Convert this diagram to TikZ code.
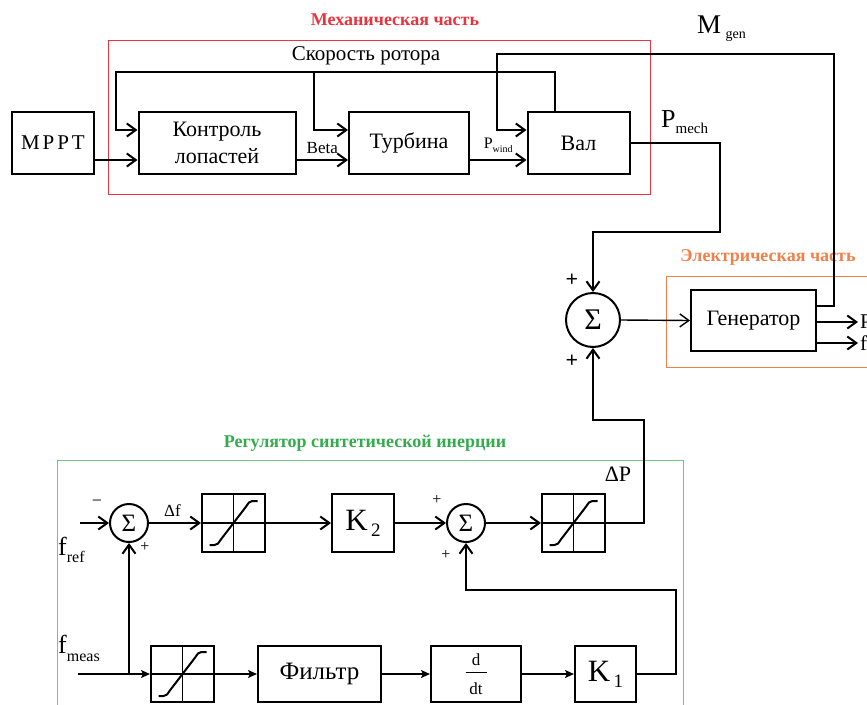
\documentclass[tikz,border=0pt]{standalone}
\usepackage{fontspec}
\setmainfont{Liberation Serif}
\usetikzlibrary{arrows.meta}

\definecolor{mechred}{RGB}{232,52,62}
\definecolor{elorange}{RGB}{240,128,72}
\definecolor{regreen}{RGB}{52,172,78}
\definecolor{regreenline}{RGB}{110,200,130}

% font size helper and lowered index
\newcommand{\fs}[1]{\fontsize{#1}{#1}\selectfont}
\newcommand{\lowidx}[3]{\raisebox{-#1}{\fs{#2}#3}}

\tikzset{
  blk/.style={draw, line width=2pt, inner sep=0pt, align=center, font=\fs{22}},
  sumbig/.style={draw, circle, line width=2pt, minimum size=54pt, inner sep=0pt, font=\fs{30}},
  sumsmall/.style={draw, circle, line width=2pt, minimum size=38pt, inner sep=0pt, font=\fs{25}},
  satbox/.style={draw, line width=2pt, minimum width=63pt, minimum height=58pt, inner sep=0pt},
  arr/.style={line width=2pt, -{Straight Barb[length=9pt,width=13pt]}},
  arrthin/.style={line width=1.4pt, -{Straight Barb[length=9pt,width=13pt]}},
  arrlow/.style={line width=2pt, -{Stealth[length=9pt,width=8pt,inset=2pt]}},
  sign/.style={inner sep=0pt, font=\fs{16}},
  bigsign/.style={inner sep=0pt, font=\bfseries\fs{22}},
  title/.style={inner sep=0pt, font=\bfseries\fs{18}},
  satsym/.pic={
    \draw[line width=1.4pt] (-31.5,0) -- (31.5,0);
    \draw[line width=1.4pt] (0,-29) -- (0,29);
    \draw[line width=2pt] (-24,22) -- (-19,22)
      .. controls (-16,22) and (-15,20) .. (-13,17) -- (13,-17)
      .. controls (15,-20) and (16,-22) .. (19,-22) -- (24,-22);
  }
}

\begin{document}
\begin{tikzpicture}[x=1pt,y=-1pt]
\useasboundingbox (0,0) rectangle (867,704);

% ---------- mechanical part ----------
\node[title, text=mechred] (tmech) at (395,20) {Механическая часть};
\draw[mechred, line width=1pt] (108,40) rectangle (650,194);

\node[blk, minimum width=82pt, minimum height=62pt, font=\fs{21}] (mppt) at (53,143)
  {\addfontfeature{LetterSpace=14}MPPT};
\node[blk, minimum width=157pt, minimum height=62pt, font=\fontsize{22}{27}\selectfont] (ctrl) at (217,143)
  {Контроль\\лопастей};
\node[blk, minimum width=120pt, minimum height=62pt] (turb) at (409,143) {Турбина};
\node[blk, minimum width=102pt, minimum height=62pt] (val) at (578.5,143) {Вал};

\node[inner sep=0pt, font=\fs{21}, anchor=base] (speed) at (366,60) {Скорость ротора};

\coordinate (fbL) at (116,72);
\coordinate (fbM) at (314,72);
\draw[arr] ([xshift=-24pt]val.north) |- (fbL) |- ([yshift=13pt]ctrl.west);
\draw[arr] (fbM) |- ([yshift=13pt]turb.west);

\draw[arr] ([yshift=-17pt]mppt.east) -- ([yshift=-17pt]ctrl.west);
\draw[arr] ([yshift=-17pt]ctrl.east) -- ([yshift=-17pt]turb.west)
  node[midway, above=5pt, inner sep=0pt, font=\fs{17}] (beta) {Beta};
\draw[arr] ([yshift=-17pt]turb.east) -- ([yshift=-17pt]val.west)
  node[midway, above=6pt, inner sep=0pt, font=\fs{16}] (pwind) {P\lowidx{4pt}{10}{wind}};

% ---------- summing junction and generator ----------
\node[sumbig] (sum) at (593,320) {Σ};
\node[bigsign] (sp1) at (572,280) {+};
\node[bigsign] (sp2) at (572,361) {+};

\node[title, text=elorange] (tel) at (768,257) {Электрическая часть};
\draw[elorange, line width=1pt] (666,276) -- (880,276) (666,276) -- (666,367) -- (880,367);

\node[blk, minimum width=125pt, minimum height=61pt] (gen) at (753.5,320.5) {Генератор};

\draw[arrthin] (sum.east) -- (gen.west);

\coordinate (o1) at (858,322);
\coordinate (o2) at (858,343);
\draw[arr] (gen.east |- o1) -- (o1);
\draw[arr] (gen.east |- o2) -- (o2);
\node[anchor=west, inner sep=0pt, font=\fs{21}] (pout) at (860,322) {P};
\node[anchor=west, inner sep=0pt, font=\fs{21}] (fout) at (860,343) {f};

% mechanical power into the junction
\node[anchor=base west, inner sep=0pt, font=\fs{26}] (pmech) at (661,127) {P\lowidx{6pt}{15}{mech}};
\coordinate (pm) at (720,232);
\draw[arr] (val.east) -| (pm) -| (sum.north);

% generator torque back to the shaft
\node[anchor=base west, inner sep=0pt, font=\fs{27}] (mgen) at (697,33) {M\,\lowidx{5pt}{14}{gen}};
\coordinate (mg1) at (834,54);
\coordinate (mg2) at (497,54);
\draw[arr] ([yshift=14.5pt]gen.east) -| (mg1) -- (mg2) |- ([yshift=13pt]val.west);

% ---------- synthetic inertia controller ----------
\node[title, text=regreen] (treg) at (365,443) {Регулятор синтетической инерции};
\draw[regreenline, line width=1pt] (57,712) -- (57,460) -- (683,460) -- (683,712);

\node[sumsmall] (s1) at (129,523) {Σ};
\node[satbox] (sat1) at (233.5,523) {};
\pic at (sat1) {satsym};
\node[blk, minimum width=62pt, minimum height=58pt, font=\fs{31}] (k2) at (363,523) {K\lowidx{6pt}{19}{\,2}};
\node[sumsmall] (s2) at (466,523) {Σ};
\node[satbox] (sat2) at (573.5,523) {};
\pic at (sat2) {satsym};

\coordinate (fref) at (80,523);
\draw[arr] (fref) -- (s1.west);
\node[sign] (m1) at (97,503) {\fs{18}−};
\node[sign] (p1) at (145,547) {+};
\node[anchor=base west, inner sep=0pt, font=\fs{26}] (lfref) at (58,555) {f\lowidx{7pt}{16}{ref}};

\draw[arr] (s1.east) -- (sat1.west)
  node[pos=0.45, above=6pt, inner sep=0pt, font=\fs{17}] (ldf) {Δf};
\draw[arr] (sat1.east) -- (k2.west);
\draw[arr] (k2.east) -- (s2.west);
\node[sign] (p2) at (437,500) {+};
\node[sign] (p3) at (446,555) {+};
\draw[arr] (s2.east) -- (sat2.west);

\node[anchor=base, inner sep=0pt, font=\fs{22}] (ldp) at (618,481) {ΔP};
\coordinate (dp1) at (644,420);
\draw[arr] (sat2.east) -| (dp1) -| (sum.south);

% measured frequency branch
\node[satbox, minimum height=56pt] (sat3) at (182.5,674) {};
\pic at (sat3) {satsym};
\node[blk, minimum width=123pt, minimum height=56pt, font=\fs{25}] (filt) at (319.5,674) {Фильтр};
\node[blk, minimum width=90pt, minimum height=56pt, font=\fontsize{17}{18}\selectfont] (ddt) at (476,674)
  {d\\[-11pt]\rule{21pt}{0.8pt}\\[4pt]dt};
\node[blk, minimum width=61pt, minimum height=56pt, font=\fs{31}] (k1) at (605.5,674) {K\lowidx{6pt}{19}{\,1}};

\node[anchor=base west, inner sep=0pt, font=\fs{26}] (lfmeas) at (58,653) {f\lowidx{8pt}{16}{meas}};
\coordinate (fm) at (78,674);
\coordinate (br) at (129,674);
\draw[arrlow] (fm) -- (sat3.west);
\draw[arr] (br) -- (s1.south);
\draw[arrlow] (sat3.east) -- (filt.west);
\draw[arrlow] (filt.east) -- (ddt.west);
\draw[arrlow] (ddt.east) -- (k1.west);
\coordinate (kb) at (676,590);
\draw[arr] (k1.east) -| (kb) -| (s2.south);
\end{tikzpicture}
\end{document}
